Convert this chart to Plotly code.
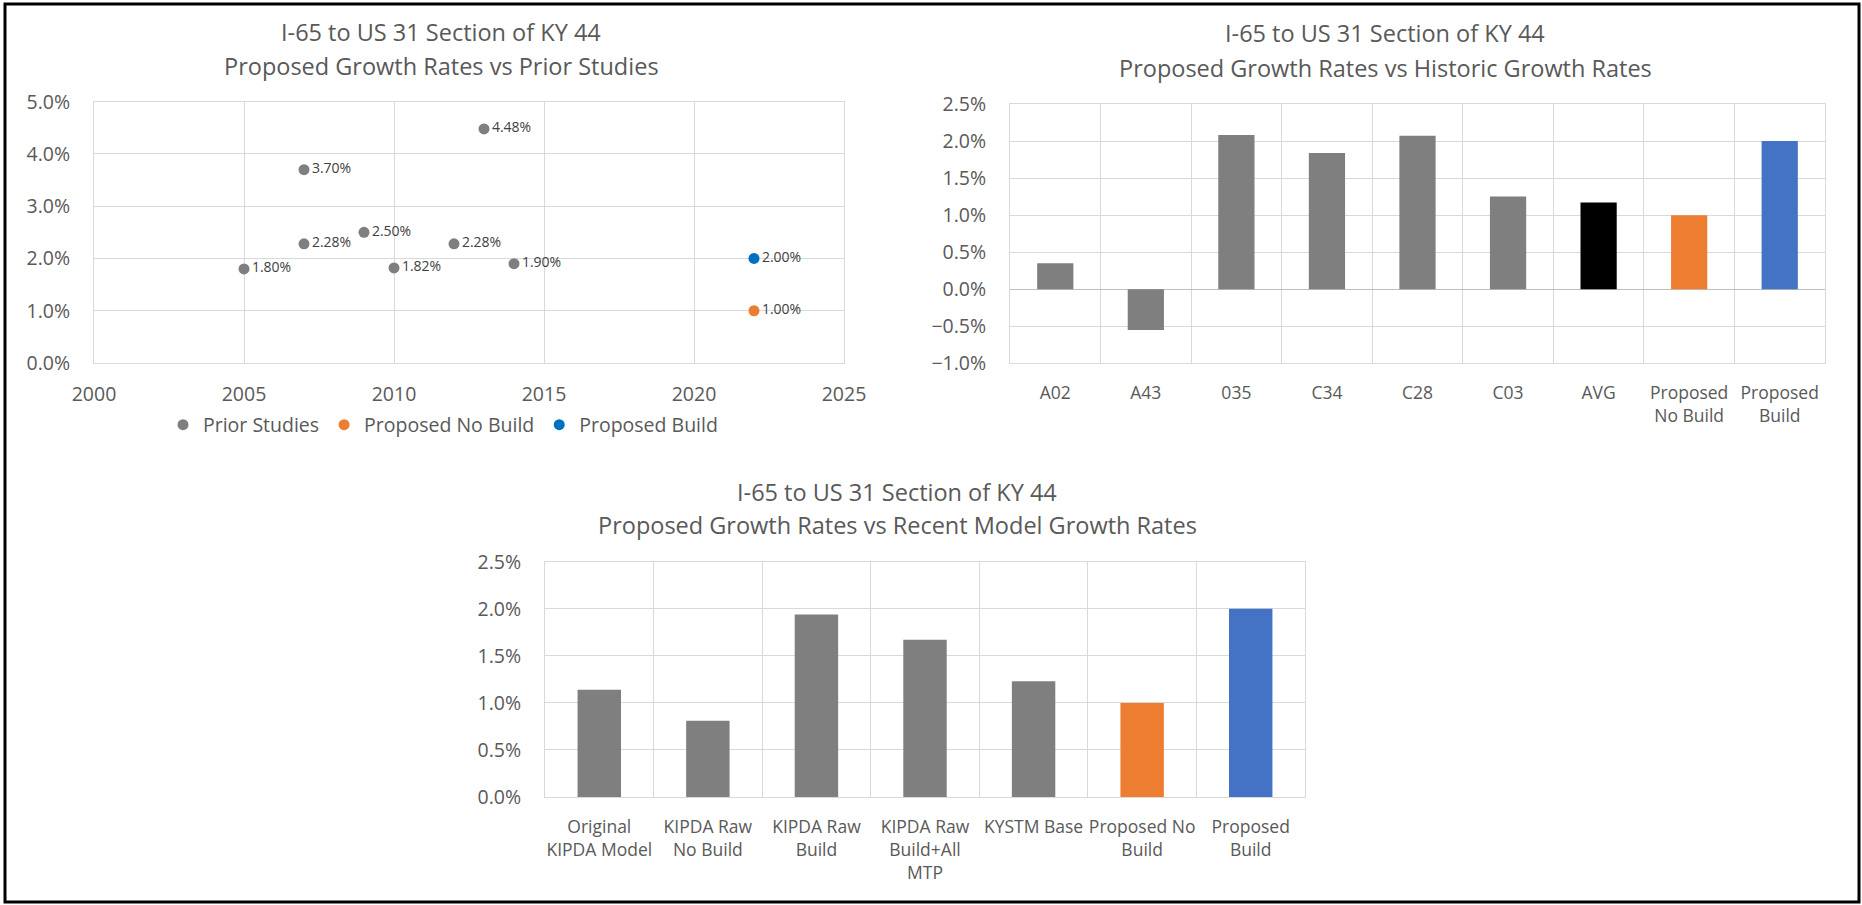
import plotly.graph_objects as go

W, H = 1862, 905

# ---------------- data ----------------
prior_years = [2005, 2007, 2007, 2009, 2010, 2012, 2013, 2014]
prior_rates = [1.80, 3.70, 2.28, 2.50, 1.82, 2.28, 4.48, 1.90]
nobuild_year = [2022]
nobuild_rate = [1.00]
build_year = [2022]
build_rate = [2.00]

hist_cats = ["A02", "A43", "035", "C34", "C28", "C03", "AVG",
             "Proposed<br>No Build", "Proposed<br>Build"]
hist_vals = [0.35, -0.55, 2.08, 1.84, 2.07, 1.25, 1.17, 1.00, 2.00]
hist_colors = ["#7F7F7F"] * 6 + ["#000000", "#ED7D31", "#4472C4"]

model_cats = ["Original<br>KIPDA Model", "KIPDA Raw<br>No Build", "KIPDA Raw<br>Build",
              "KIPDA Raw<br>Build+All<br>MTP", "KYSTM Base", "Proposed No<br>Build",
              "Proposed<br>Build"]
model_vals = [1.14, 0.81, 1.94, 1.67, 1.23, 1.00, 2.00]
model_colors = ["#7F7F7F"] * 5 + ["#ED7D31", "#4472C4"]

title_line1 = "I-65 to US 31 Section of KY 44"
titles_line2 = ["Proposed Growth Rates vs Prior Studies",
                "Proposed Growth Rates vs Historic Growth Rates",
                "Proposed Growth Rates vs Recent Model Growth Rates"]

# ---------------- styling helpers ----------------
FONT = "Open Sans"
TXT = "#595959"
GRID = "#D9D9D9"


def px_x(v):
    return v / W


def px_y(v):
    return 1 - v / H


fig = go.Figure()

label_font = dict(size=14, color="#404040", family=FONT)

# Chart 1: scatter
fig.add_trace(go.Scatter(
    x=prior_years, y=prior_rates, mode="markers+text", name="Prior Studies",
    marker=dict(color="#7F7F7F", size=11),
    text=[f"{v:.2f}%" for v in prior_rates], textposition="middle right",
    textfont=label_font, xaxis="x", yaxis="y"))
fig.add_trace(go.Scatter(
    x=nobuild_year, y=nobuild_rate, mode="markers+text", name="Proposed No Build",
    marker=dict(color="#ED7D31", size=11),
    text=[f"{v:.2f}%" for v in nobuild_rate], textposition="middle right",
    textfont=label_font, xaxis="x", yaxis="y"))
fig.add_trace(go.Scatter(
    x=build_year, y=build_rate, mode="markers+text", name="Proposed Build",
    marker=dict(color="#0070C0", size=11),
    text=[f"{v:.2f}%" for v in build_rate], textposition="middle right",
    textfont=label_font, xaxis="x", yaxis="y"))

# Chart 2: historic bars
fig.add_trace(go.Bar(x=hist_cats, y=hist_vals, marker=dict(color=hist_colors, line=dict(width=0)),
                     showlegend=False, xaxis="x2", yaxis="y2"))

# Chart 3: model bars
fig.add_trace(go.Bar(x=model_cats, y=model_vals, marker=dict(color=model_colors, line=dict(width=0)),
                     showlegend=False, xaxis="x3", yaxis="y3"))

tickfont = dict(family=FONT, size=19.5, color=TXT)
catfont = dict(family=FONT, size=17.5, color=TXT)

common_x = dict(showgrid=True, gridcolor=GRID, gridwidth=1, showline=True, linecolor=GRID,
                linewidth=1, mirror=True, zeroline=False, tickfont=tickfont, ticks="",
                fixedrange=True, automargin=False, tickangle=0)
common_y = dict(showgrid=True, gridcolor=GRID, gridwidth=1, showline=True, linecolor=GRID,
                linewidth=1, mirror=True, tickfont=tickfont, ticks="", ticksuffix="%",
                tickformat=".1f", fixedrange=True, automargin=False)

fig.update_layout(
    width=W, height=H, autosize=False,
    margin=dict(l=0, r=0, t=0, b=0, autoexpand=False),
    paper_bgcolor="white", plot_bgcolor="white",
    font=dict(family=FONT, color=TXT),
    bargap=0.6,
    xaxis=dict(common_x, domain=[px_x(94), px_x(844)], range=[2000, 2025], dtick=5,
               anchor="y", ticklabelstandoff=14),
    yaxis=dict(common_y, domain=[px_y(363), px_y(101.7)], range=[0, 5], dtick=1,
               anchor="x", zeroline=False, ticklabelstandoff=19),
    xaxis2=dict(common_x, domain=[px_x(1010), px_x(1825)], type="category",
                tickson="boundaries", anchor="y2", ticklabelstandoff=14, tickfont=catfont),
    yaxis2=dict(common_y, domain=[px_y(363.3), px_y(104)], range=[-1, 2.5], dtick=0.5,
                anchor="x2", zeroline=True, zerolinecolor="#BFBFBF", zerolinewidth=1,
                ticklabelstandoff=19),
    xaxis3=dict(common_x, domain=[px_x(545), px_x(1305)], type="category",
                tickson="boundaries", anchor="y3", ticklabelstandoff=14, tickfont=catfont),
    yaxis3=dict(common_y, domain=[px_y(797), px_y(561.7)], range=[0, 2.5], dtick=0.5,
                anchor="x3", zeroline=False, ticklabelstandoff=19),
    legend=dict(orientation="h", x=px_x(443), xanchor="center", y=px_y(425), yanchor="middle",
                font=dict(family=FONT, size=19.5, color=TXT), bgcolor="rgba(0,0,0,0)"),
)

# Titles (annotations)
title_pos = [(441, 32.5, 66), (1385, 33.5, 68), (897, 492, 525)]
for (cx, y1, y2), l2 in zip(title_pos, titles_line2):
    fig.add_annotation(text=title_line1, x=px_x(cx), y=px_y(y1), xref="paper", yref="paper",
                       showarrow=False, xanchor="center", yanchor="middle",
                       font=dict(family=FONT, size=23.5, color=TXT))
    fig.add_annotation(text=l2, x=px_x(cx), y=px_y(y2), xref="paper", yref="paper",
                       showarrow=False, xanchor="center", yanchor="middle",
                       font=dict(family=FONT, size=23.5, color=TXT))

# Outer border
fig.add_shape(type="rect", xref="paper", yref="paper",
              x0=px_x(5), x1=px_x(1859), y0=px_y(902), y1=px_y(4),
              line=dict(color="black", width=3), fillcolor="rgba(0,0,0,0)")

fig.write_html("out.html", config={"displayModeBar": False})
